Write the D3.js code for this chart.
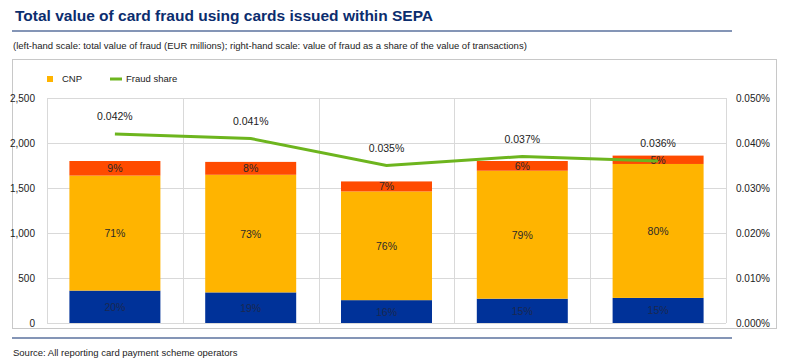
<!DOCTYPE html>
<html><head><meta charset="utf-8">
<script src="https://cdn.jsdelivr.net/npm/d3@7"></script>
<style>body{margin:0;background:#fff;}svg{display:block;font-family:"Liberation Sans",Arial,sans-serif;}</style>
</head><body><svg id="c" width="802" height="364"></svg>
<script>
const categories = ["2015","2016","2017","2018","2019"];
const cardPresent = [360, 340, 254, 270, 279];
const cnp = [1278, 1307, 1208, 1422, 1488];
const atm = [162, 143, 111, 108, 93];
const cardPresentPct = ["20%","19%","16%","15%","15%"];
const cnpPct = ["71%","73%","76%","79%","80%"];
const atmPct = ["9%","8%","7%","6%","5%"];
// fraud share, in percent of transaction value
const fraudShare = [0.042, 0.041, 0.035, 0.037, 0.036];
const leftTicks = [0, 500, 1000, 1500, 2000, 2500];
const rightTicks = [0, 0.01, 0.02, 0.03, 0.04, 0.05];

const svg = d3.select("#c");
const m = {l:47, r:726, t:98, b:323};
const x = d3.scaleBand().domain(categories).range([m.l, m.r]).paddingInner(0.33).paddingOuter(0.165);
const xb = d3.scaleBand().domain(categories).range([m.l, m.r]);
const y = d3.scaleLinear().domain([0, 2500]).range([m.b, m.t]);
const y2 = d3.scaleLinear().domain([0, 0.05]).range([m.b, m.t]);
const pctFmt = d => d.toFixed(3) + "%";

// title
svg.append("text").attr("x", 15).attr("y", 21).attr("font-size", 15.5).attr("font-weight", "bold")
  .attr("fill", "#0b2d6e").text("Total value of card fraud using cards issued within SEPA");
svg.append("line").attr("x1", 12).attr("x2", 732).attr("y1", 31).attr("y2", 31).attr("stroke", "#0b2d6e").attr("stroke-width", 1.2);
svg.append("text").attr("x", 13).attr("y", 49).attr("font-size", 9.5).attr("fill", "#222")
  .text("(left-hand scale: total value of fraud (EUR millions); right-hand scale: value of fraud as a share of the value of transactions)");
// frame
svg.append("rect").attr("x", 12.5).attr("y", 59.5).attr("width", 764).attr("height", 269).attr("fill", "none").attr("stroke", "#c8c8c8");
svg.append("line").attr("x1", 12).attr("x2", 732).attr("y1", 338).attr("y2", 338).attr("stroke", "#0b2d6e").attr("stroke-width", 1.2);
svg.append("text").attr("x", 13).attr("y", 356).attr("font-size", 9.5).attr("fill", "#222").text("Source: All reporting card payment scheme operators");

// gridlines
svg.append("g").selectAll("line").data(leftTicks).join("line")
  .attr("x1", m.l).attr("x2", m.r).attr("y1", d => Math.round(y(d)) + 0.5).attr("y2", d => Math.round(y(d)) + 0.5)
  .attr("stroke", "#d9d9d9");
svg.append("g").selectAll("line").data(categories).join("line")
  .attr("x1", d => Math.round(xb(d)) + 0.5).attr("x2", d => Math.round(xb(d)) + 0.5)
  .attr("y1", m.t).attr("y2", m.b).attr("stroke", "#d9d9d9");
svg.append("line").attr("x1", Math.round(m.r) + 0.5).attr("x2", Math.round(m.r) + 0.5).attr("y1", m.t).attr("y2", m.b).attr("stroke", "#d9d9d9");

// axes
const fmt = d3.format(",");
const ax = svg.append("g").attr("transform", `translate(${m.l - 9},0)`)
  .call(d3.axisLeft(y).tickValues(leftTicks).tickFormat(fmt).tickSize(0));
ax.select(".domain").remove();
ax.selectAll("text").attr("font-size", 10).attr("fill", "#222").attr("font-family", "Liberation Sans, Arial, sans-serif");
const ax2 = svg.append("g").attr("transform", `translate(${m.r + 7},0)`)
  .call(d3.axisRight(y2).tickValues(rightTicks).tickFormat(pctFmt).tickSize(0));
ax2.select(".domain").remove();
ax2.selectAll("text").attr("font-size", 10).attr("fill", "#222").attr("font-family", "Liberation Sans, Arial, sans-serif");

// stacked bars
const series = [
  {name: "Card present", vals: cardPresent, pct: cardPresentPct, color: "#003299"},
  {name: "CNP", vals: cnp, pct: cnpPct, color: "#FFB400"},
  {name: "ATM", vals: atm, pct: atmPct, color: "#FF4B00"}
];
const base = categories.map(() => 0);
series.forEach(s => {
  const g = svg.append("g");
  const rows = categories.map((c, i) => ({c, y0: base[i], y1: base[i] + s.vals[i], pct: s.pct[i]}));
  rows.forEach((r, i) => base[i] = r.y1);
  g.selectAll("rect").data(rows).join("rect")
    .attr("x", d => x(d.c)).attr("width", x.bandwidth())
    .attr("y", d => y(d.y1)).attr("height", d => y(d.y0) - y(d.y1)).attr("fill", s.color);
  g.selectAll("text").data(rows).join("text")
    .attr("x", d => x(d.c) + x.bandwidth() / 2).attr("y", d => (y(d.y0) + y(d.y1)) / 2 + 4)
    .attr("text-anchor", "middle").attr("font-size", 10.5).attr("fill", s.name === "Card present" ? "#1a2850" : "#2a2a2a")
    .text(d => d.pct);
});

// fraud share line
const line = d3.line().x((d, i) => xb(categories[i]) + xb.bandwidth() / 2).y(d => y2(d));
svg.append("path").datum(fraudShare).attr("d", line).attr("fill", "none").attr("stroke", "#6DB51E").attr("stroke-width", 3);
svg.append("g").selectAll("text").data(fraudShare).join("text")
  .attr("x", (d, i) => xb(categories[i]) + xb.bandwidth() / 2).attr("y", d => y2(d) - 14)
  .attr("text-anchor", "middle").attr("font-size", 10.5).attr("fill", "#222")
  .text(d => pctFmt(d));

// legend
svg.append("rect").attr("x", 47).attr("y", 76).attr("width", 6).attr("height", 6).attr("fill", "#FFB400");
svg.append("text").attr("x", 62).attr("y", 82).attr("font-size", 9.5).attr("fill", "#222").text("CNP");
svg.append("line").attr("x1", 110).attr("x2", 122).attr("y1", 79).attr("y2", 79).attr("stroke", "#6DB51E").attr("stroke-width", 3);
svg.append("text").attr("x", 126).attr("y", 82).attr("font-size", 9.5).attr("fill", "#222").text("Fraud share");
</script></body></html>
